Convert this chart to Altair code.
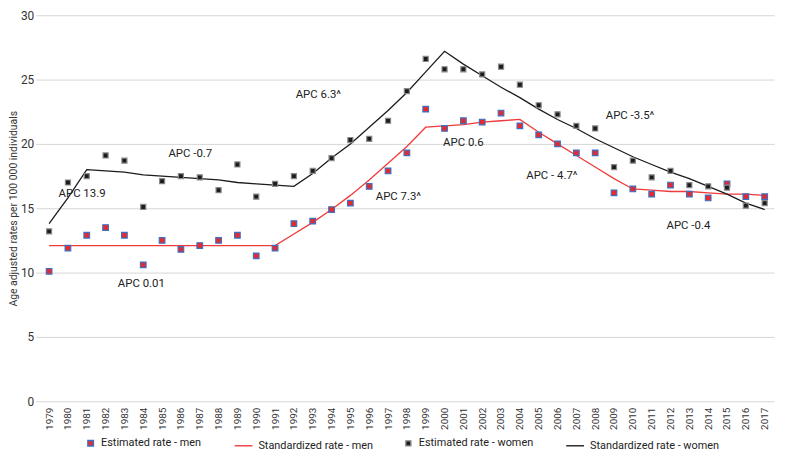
import altair as alt
import pandas as pd

years = list(range(1979, 2018))

men_est = [10.1, 11.9, 12.9, 13.5, 12.9, 10.6, 12.5, 11.8, 12.1, 12.5, 12.9, 11.3, 11.9,
           13.8, 14.0, 14.9, 15.4, 16.7, 17.9, 19.3, 22.7, 21.2, 21.8, 21.7, 22.4, 21.4,
           20.7, 20.0, 19.3, 19.3, 16.2, 16.5, 16.1, 16.8, 16.1, 15.8, 16.9, 15.9, 15.9]

women_est = [13.2, 17.0, 17.5, 19.1, 18.7, 15.1, 17.1, 17.5, 17.4, 16.4, 18.4, 15.9, 16.9,
             17.5, 17.9, 18.9, 20.3, 20.4, 21.8, 24.1, 26.6, 25.8, 25.8, 25.4, 26.0, 24.6,
             23.0, 22.3, 21.4, 21.2, 18.2, 18.7, 17.4, 17.9, 16.8, 16.7, 16.6, 15.2, 15.4]

men_std = [12.1, 12.1, 12.1, 12.1, 12.1, 12.1, 12.1, 12.1, 12.1, 12.1, 12.1, 12.1, 12.1,
           13.0, 13.9, 14.9, 16.0, 17.2, 18.5, 19.8, 21.3, 21.4, 21.5, 21.7, 21.8, 21.9,
           20.9, 20.0, 19.1, 18.2, 17.3, 16.5, 16.4, 16.3, 16.3, 16.2, 16.1, 16.1, 16.0]

women_std = [13.8, 15.8, 18.0, 17.9, 17.8, 17.6, 17.5, 17.4, 17.3, 17.2, 17.0, 16.9, 16.8,
             16.7, 17.7, 18.9, 20.0, 21.3, 22.6, 24.0, 25.6, 27.2, 26.2, 25.3, 24.4, 23.6,
             22.7, 21.9, 21.2, 20.4, 19.7, 19.0, 18.4, 17.8, 17.3, 16.7, 16.1, 15.4, 14.9]

series_names = ["Estimated rate - men", "Standardized rate - men",
                "Estimated rate - women", "Standardized rate - women"]

ann_text = ["APC 13.9", "APC -0.7", "APC 6.3^", "APC 0.01", "APC 7.3^",
            "APC 0.6", "APC - 4.7^", "APC -3.5^", "APC -0.4"]
ann_x = [1980.75, 1986.5, 1993.3, 1983.9, 1997.55, 2001.0, 2005.7, 2009.85, 2012.95]
ann_y = [16.1, 19.2, 23.8, 9.1, 15.85, 20.1, 17.5, 22.2, 13.65]

pts = pd.DataFrame({
    "year": years + years,
    "value": men_est + women_est,
    "series": [series_names[0]] * len(years) + [series_names[2]] * len(years),
})
lines = pd.DataFrame({
    "year": years + years,
    "value": men_std + women_std,
    "series": [series_names[1]] * len(years) + [series_names[3]] * len(years),
})
ann = pd.DataFrame({"x": ann_x, "y": ann_y, "label": ann_text})

FONT = "Roboto, Liberation Sans, sans-serif"

x_scale = alt.Scale(domain=[1978.5, 2017.5], nice=False, zero=False)
y_scale = alt.Scale(domain=[0, 30], nice=False)

x_axis = alt.Axis(values=years, format="d", labelAngle=270, grid=False, ticks=False,
                  domain=False, labelPadding=6, labelFontSize=10, labelOverlap=False,
                  labelFlush=False, labelBound=False, title=None)
y_axis = alt.Axis(values=[0, 5, 10, 15, 20, 25, 30], grid=True, gridColor="#d6d6d6",
                  domain=False, tickColor="#d6d6d6", tickSize=4, labelPadding=2,
                  labelFontSize=12,
                  title="Age adjusted rates per 100 000 individuals",
                  titleFontSize=10.5, titleFontWeight="normal", titleX=-26, titleY=195,
                  titleAngle=270, titleBaseline="middle", titleAlign="center")

fill_scale = alt.Scale(domain=series_names, range=["#e42a2f", "#ef3b3b", "#1c1c1c", "#1c1c1c"])
stroke_scale = alt.Scale(domain=series_names, range=["#3d6fc2", "#ef3b3b", "#8a8a8a", "#1c1c1c"])
shape_scale = alt.Scale(domain=series_names, range=["square", "stroke", "square", "stroke"])
size_scale = alt.Scale(type="ordinal", domain=series_names, range=[32, 324, 26, 324])

legend = alt.Legend(title=None, orient="none", legendX=46, legendY=425, direction="horizontal",
                    labelFontSize=11, labelFont=FONT, labelColor="#222", labelOffset=5,
                    columnPadding=30, symbolStrokeWidth=1.4)

X = alt.X("year:Q", scale=x_scale, axis=x_axis)
Y = alt.Y("value:Q", scale=y_scale, axis=y_axis)

line_layer = alt.Chart(lines).mark_line(strokeWidth=1.3).encode(
    x=X,
    y=Y,
    stroke=alt.Stroke("series:N", scale=stroke_scale, legend=legend),
    detail="series:N",
)

pt_layer = alt.Chart(pts).mark_point(filled=True, opacity=1, strokeWidth=1.2).encode(
    x=X,
    y=Y,
    fill=alt.Fill("series:N", scale=fill_scale, legend=legend),
    stroke=alt.Stroke("series:N", scale=stroke_scale, legend=legend),
    shape=alt.Shape("series:N", scale=shape_scale, legend=legend),
    size=alt.Size("series:N", scale=size_scale, legend=legend),
)

txt_layer = alt.Chart(ann).mark_text(fontSize=11.5, font=FONT, color="#222").encode(
    x=alt.X("x:Q", scale=x_scale, axis=x_axis),
    y=alt.Y("y:Q", scale=y_scale, axis=y_axis),
    text="label:N",
)

chart = alt.layer(line_layer, pt_layer, txt_layer).properties(
    width=742, height=390,
    autosize=alt.AutoSizeParams(type="none"),
    padding={"left": 32, "top": 5, "right": 8, "bottom": 52},
).configure_view(stroke=None).configure_axis(
    labelFont=FONT, titleFont=FONT, labelColor="#333", titleColor="#333"
).configure_axisX(labelOverlap=False)

chart.save("out.html", embed_options={"renderer": "svg", "actions": False})
